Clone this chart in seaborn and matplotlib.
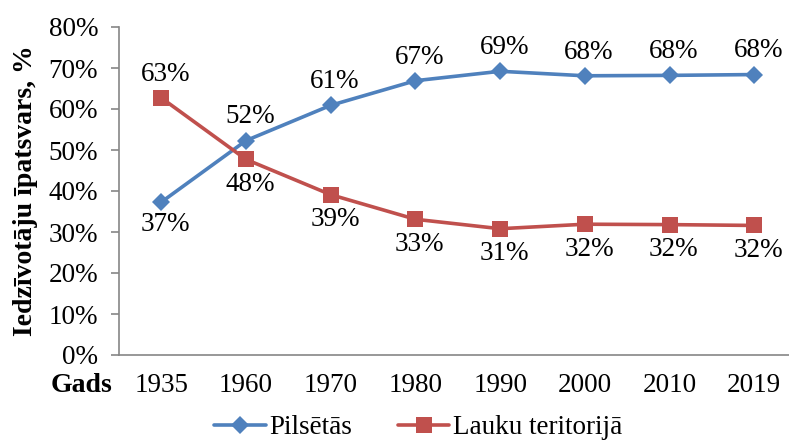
import pandas as pd
import numpy as np
import matplotlib.pyplot as plt
import seaborn as sns
from matplotlib.lines import Line2D

# Dati
gadi = ['1935', '1960', '1970', '1980', '1990', '2000', '2010', '2019']
pilsetas = [37.3, 52.3, 60.9, 66.9, 69.2, 68.1, 68.2, 68.4]
lauki = [62.7, 47.7, 39.1, 33.1, 30.8, 31.9, 31.8, 31.6]
grupas = ['Pilsētās', 'Lauku teritorijā']

df = pd.DataFrame({
    'Gads': gadi * 2,
    'Vertiba': pilsetas + lauki,
    'Grupa': [grupas[0]] * len(gadi) + [grupas[1]] * len(gadi),
})

sns.set_style('white')
plt.rcParams['font.family'] = ['Liberation Serif', 'DejaVu Serif']
plt.rcParams['text.color'] = 'black'
plt.rcParams['axes.labelcolor'] = 'black'

krasas = {'Pilsētās': '#4F81BD', 'Lauku teritorijā': '#C0504D'}
markeri = {'Pilsētās': 'D', 'Lauku teritorijā': 's'}
fs = 19.5

fig = plt.figure(figsize=(7.89, 4.41), dpi=100)
ax = fig.add_axes([119 / 789, 86 / 441, 677.6 / 789, 328 / 441])

sns.lineplot(data=df, x='Gads', y='Vertiba', hue='Grupa', style='Grupa',
             palette=krasas, markers=markeri, dashes=False, sort=False,
             linewidth=2.6, ax=ax, legend=False)
for line in ax.lines:
    if line.get_marker() == 's':
        line.set_markersize(12)
    else:
        line.set_markersize(9)
    line.set_markeredgewidth(0)

# Datu etiķetes
for i, (p, l) in enumerate(zip(pilsetas, lauki)):
    dp = -16 if i == 0 else 17
    dl = 17 if i == 0 else -18
    ax.annotate(f'{round(p)}%', (i, p), xytext=(3, dp), textcoords='offset points',
                ha='center', va='center', fontsize=fs, color='black')
    ax.annotate(f'{round(l)}%', (i, l), xytext=(3, dl), textcoords='offset points',
                ha='center', va='center', fontsize=fs, color='black')

ax.set_xlim(-0.5, 7.5)
ax.set_ylim(0, 80)
ax.set_yticks(np.arange(0, 81, 10))
ax.set_yticklabels([f'{v}%' for v in range(0, 81, 10)])
ax.tick_params(axis='y', labelsize=fs, length=6, width=1.2, color='#868686',
               labelcolor='black', pad=9, left=True)
ax.tick_params(axis='x', labelsize=fs, length=0, pad=13, labelcolor='black')

for side in ['top', 'right']:
    ax.spines[side].set_visible(False)
for side in ['left', 'bottom']:
    ax.spines[side].set_color('#868686')
    ax.spines[side].set_linewidth(1.2)

ax.set_xlabel('')
ax.set_ylabel('Iedzīvotāju īpatsvars, %', fontsize=20, fontweight='bold', va='center')
ax.yaxis.set_label_coords(-0.138, 0.5)

fig.text(82 / 789, 1 - 386 / 441, 'Gads', fontsize=20, fontweight='bold',
         ha='center', va='center')

handles = [Line2D([], [], color=krasas[g], marker=markeri[g], linewidth=2.6,
                  markersize=12 if markeri[g] == 's' else 9, markeredgewidth=0)
           for g in grupas]
fig.legend(handles, grupas, loc='center', bbox_to_anchor=(418 / 789, 1 - 428 / 441),
           ncol=2, frameon=False, fontsize=fs, handlelength=1.9, handletextpad=0.12,
           columnspacing=1.7, borderpad=0)

fig.savefig('out.png', dpi=100)
